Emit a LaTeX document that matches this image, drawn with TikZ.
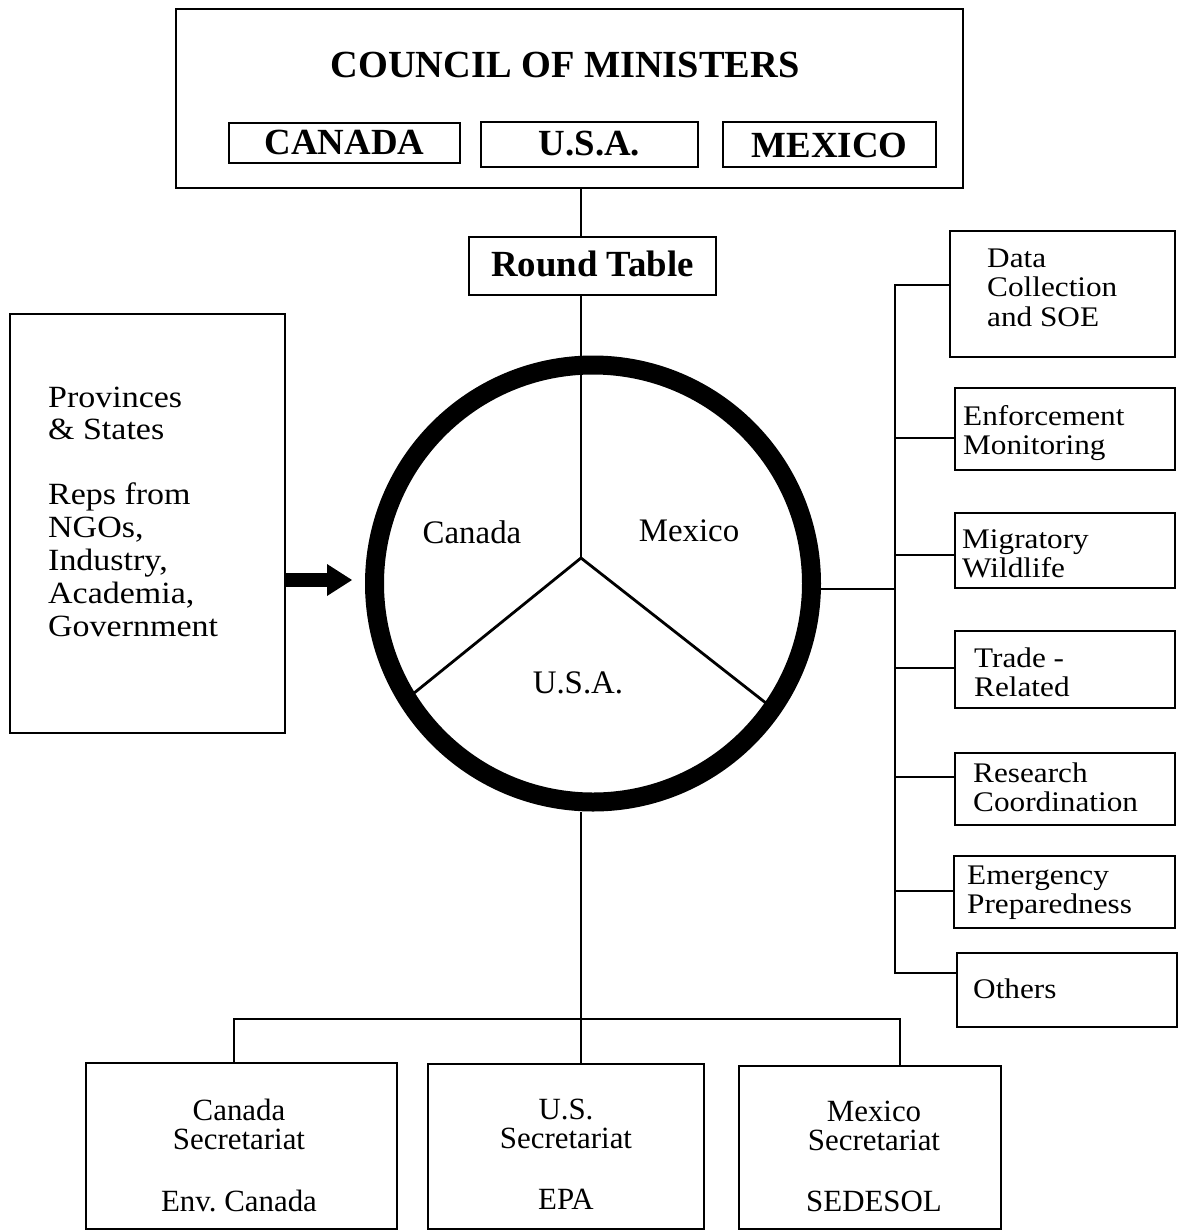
\documentclass[tikz,border=0pt]{standalone}
\usepackage{fontspec}
\setmainfont{Liberation Serif}
\newfontfamily\widefont[FakeStretch=1.1]{Liberation Serif}
\usetikzlibrary{arrows.meta}
\begin{document}
\begin{tikzpicture}[x=1bp,y=-1bp,
  box/.style={draw, line width=1.6bp, rectangle, inner sep=0pt, outer sep=0pt},
  conn/.style={line width=1.8bp},
  spoke/.style={line width=2.8bp},
  ttl/.style={font=\bfseries\fontsize{38.5}{44}\selectfont, inner sep=0pt, anchor=base},
  cbox/.style={box, font=\bfseries\fontsize{37}{42}\selectfont, text depth=0pt},
  sidetxt/.style={inner sep=0pt, anchor=base west, font=\widefont\fontsize{28.5}{30}\selectfont},
  lefttxt/.style={inner sep=0pt, anchor=base west, font=\widefont\fontsize{31}{33}\selectfont},
  pietxt/.style={inner sep=0pt, anchor=base, font=\fontsize{33}{36}\selectfont},
  sectxt/.style={inner sep=0pt, anchor=base, font=\fontsize{31}{30}\selectfont},
]
\path[fill=white] (0,0) rectangle (1183,1231);
\useasboundingbox (0,0) rectangle (1183,1231);

% Council of ministers
\node[box, minimum width=787bp, minimum height=179bp] (council) at (569.5,98.5) {};
\node[ttl] (title) at (565,77) {COUNCIL OF MINISTERS};
\node[cbox, minimum width=231bp, minimum height=40bp, text height=22bp] (cCan) at (344.5,143) {CANADA};
\node[cbox, minimum width=217bp, minimum height=45bp, text height=21bp] (cUsa) at (589.5,144.5) {U.S.A.};
\node[cbox, minimum width=213bp, minimum height=45bp, text height=25bp] (cMex) at (829.5,144.5) {MEXICO};

% Round table
\node[cbox, minimum width=247bp, minimum height=58bp, text height=20bp] (rt) at (592.5,266) {Round Table};

% Provinces box
\node[box, minimum width=275bp, minimum height=419bp] (prov) at (147.5,523.5) {};
\node[lefttxt] (provT) at (48,407) {\begin{tabular}[t]{@{}l@{}}Provinces\\\& States\\[32bp]Reps from\\NGOs,\\Industry,\\Academia,\\Government\end{tabular}};

% Pie
\coordinate (hub) at (581,558);
\coordinate (s1) at (407.2,698.6);
\coordinate (s2) at (772.5,708.2);
\draw[spoke] (hub) -- (s1);
\draw[spoke] (hub) -- (s2);
\draw[conn] (hub |- council.south) -- (hub |- rt.north);
\draw[conn] (hub |- rt.south) -- (hub);
\node[circle, draw, line width=19bp, minimum size=437bp, inner sep=0pt] (ring) at (593,583.5) {};
\node[pietxt] (pCan) at (472,543) {Canada};
\node[pietxt] (pMex) at (689,541) {Mexico};
\node[pietxt] (pUsa) at (578,693) {U.S.A.};

% Arrow from provinces to the round table
\coordinate (arrEnd) at (352,580);
\draw[line width=14bp, -{Triangle[length=25bp,width=32bp,line width=0pt]}] (prov.east |- arrEnd) -- (arrEnd);

% Right-hand boxes
\node[box, minimum width=225bp, minimum height=126bp] (data) at (1062.5,294) {};
\node[box, minimum width=220bp, minimum height=82bp] (enf) at (1065,429) {};
\node[box, minimum width=220bp, minimum height=75bp] (mig) at (1065,550.5) {};
\node[box, minimum width=220bp, minimum height=77bp] (trade) at (1065,669.5) {};
\node[box, minimum width=220bp, minimum height=72bp] (res) at (1065,789) {};
\node[box, minimum width=221bp, minimum height=72bp] (emer) at (1064.5,892) {};
\node[box, minimum width=220bp, minimum height=74bp] (oth) at (1067,990) {};
\node[sidetxt] (dataT) at (987,267) {\begin{tabular}[t]{@{}l@{}}Data\\Collection\\and SOE\end{tabular}};
\node[sidetxt] (enfT) at (963,425) {\begin{tabular}[t]{@{}l@{}}Enforcement\\Monitoring\end{tabular}};
\node[sidetxt] (migT) at (962,548) {\begin{tabular}[t]{@{}l@{}}Migratory\\Wildlife\end{tabular}};
\node[sidetxt] (tradeT) at (974,667) {\begin{tabular}[t]{@{}l@{}}Trade -\\Related\end{tabular}};
\node[sidetxt] (resT) at (973,782) {\begin{tabular}[t]{@{}l@{}}Research\\Coordination\end{tabular}};
\node[sidetxt] (emerT) at (967,884) {\begin{tabular}[t]{@{}l@{}}Emergency\\Preparedness\end{tabular}};
\node[sidetxt] (othT) at (973,998) {Others};

% Bracket
\coordinate (b1) at (895,285);
\coordinate (b2) at (895,438);
\coordinate (b3) at (895,555);
\coordinate (b4) at (895,668);
\coordinate (b5) at (895,777);
\coordinate (b6) at (895,891);
\coordinate (b7) at (895,973);
\coordinate (bm) at (895,589);
\draw[conn] (bm -| ring.east) -- (bm);
\draw[conn] (b1 -| data.west) -- (b1) -- (b7) -- (b7 -| oth.west);
\draw[conn] (b2) -- (b2 -| enf.west);
\draw[conn] (b3) -- (b3 -| mig.west);
\draw[conn] (b4) -- (b4 -| trade.west);
\draw[conn] (b5) -- (b5 -| res.west);
\draw[conn] (b6) -- (b6 -| emer.west);

% Secretariats
\node[box, minimum width=311bp, minimum height=166bp] (canSec) at (241.5,1146) {};
\node[box, minimum width=276bp, minimum height=165bp] (usSec) at (566,1146.5) {};
\node[box, minimum width=262bp, minimum height=163bp] (mexSec) at (870,1147.5) {};
\node[sectxt] (canSecT) at (239,1120) {\begin{tabular}[t]{@{}c@{}}Canada\\Secretariat\\[31bp]Env.\ Canada\end{tabular}};
\node[sectxt] (usSecT) at (566,1119) {\begin{tabular}[t]{@{}c@{}}U.S.\\Secretariat\\[31bp]EPA\end{tabular}};
\node[sectxt] (mexSecT) at (874,1121) {\begin{tabular}[t]{@{}c@{}}Mexico\\Secretariat\\[31bp]SEDESOL\end{tabular}};

\coordinate (bl) at (234,1019);
\coordinate (br) at (900,1019);
\draw[conn] (hub |- ring.south) -- (hub |- usSec.north);
\draw[conn] (bl |- canSec.north) -- (bl) -- (br) -- (br |- mexSec.north);
\end{tikzpicture}
\end{document}
